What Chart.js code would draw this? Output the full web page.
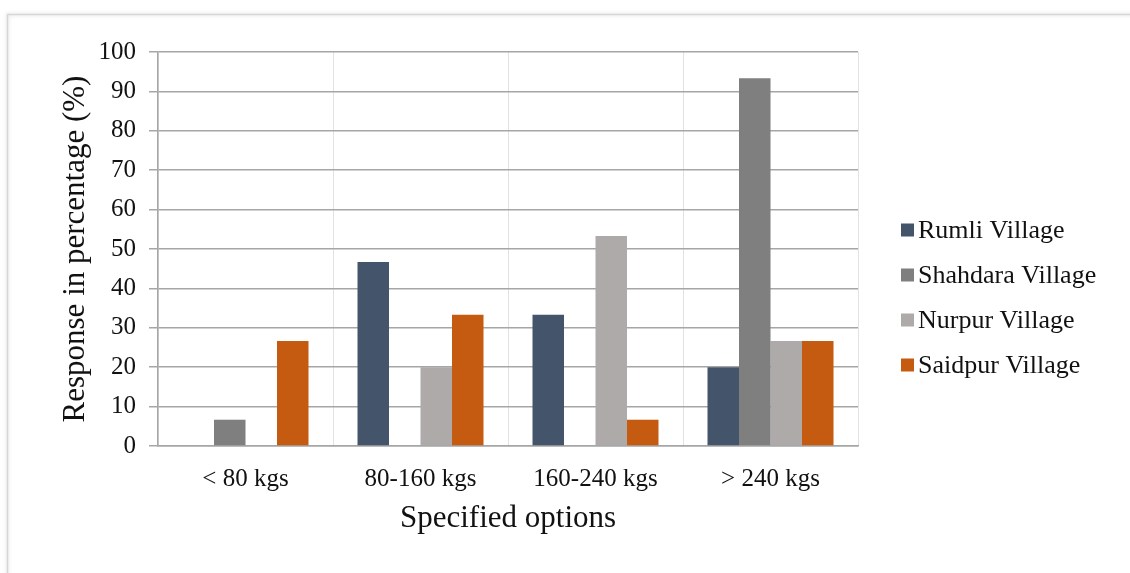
<!DOCTYPE html>
<html>
<head>
<meta charset="utf-8">
<script src="https://cdn.jsdelivr.net/npm/chart.js@4.4.1/dist/chart.umd.min.js"></script>
<style>
  html, body { margin: 0; padding: 0; background: #ffffff; }
  #wrap { position: relative; width: 1130px; height: 573px; }
</style>
</head>
<body>
<div id="wrap"><canvas id="chart" width="1130" height="573"></canvas></div>
<script>
// Weight classes asked about in the survey
const categories = ['< 80 kgs', '80-160 kgs', '160-240 kgs', '> 240 kgs'];

// Share of respondents per village (%)
const rumli    = [0, 46.67, 33.33, 20];
const shahdara = [6.67, 0, 0, 93.33];
const nurpur   = [0, 20, 53.33, 26.67];
const saidpur  = [26.67, 33.33, 6.67, 26.67];

const seriesNames  = ['Rumli Village', 'Shahdara Village', 'Nurpur Village', 'Saidpur Village'];
const seriesColors = ['#44546A', '#7F7F7F', '#AEAAAA', '#C55A11'];

const yTicks = { min: 0, max: 100, step: 10 };

const serif = "'Liberation Serif', 'DejaVu Serif', serif";
const ink = '#111111';

// Soft page frame along the top and left edges
const framePlugin = {
  id: 'frame',
  beforeDraw(chart) {
    const ctx = chart.ctx;
    ctx.save();
    ctx.strokeStyle = '#d6d6d6';
    ctx.lineWidth = 1.5;
    ctx.shadowColor = 'rgba(0,0,0,0.18)';
    ctx.shadowBlur = 4;
    ctx.beginPath();
    ctx.moveTo(7.5, chart.height + 5);
    ctx.lineTo(7.5, 14.5);
    ctx.lineTo(chart.width + 5, 14.5);
    ctx.stroke();
    ctx.restore();
  }
};

// Legend listed to the right of the plot
const sideLegend = {
  id: 'sideLegend',
  afterDraw(chart) {
    const ctx = chart.ctx;
    const x0 = 901, y0 = 230, rowGap = 45, box = 13;
    ctx.save();
    ctx.font = '26px ' + serif;
    ctx.textBaseline = 'middle';
    ctx.textAlign = 'left';
    chart.data.datasets.forEach((ds, i) => {
      const y = y0 + i * rowGap;
      ctx.fillStyle = ds.backgroundColor;
      ctx.fillRect(x0, y - box / 2, box, box);
      ctx.fillStyle = ink;
      ctx.fillText(ds.label, x0 + 17, y + 1);
    });
    ctx.restore();
  }
};

const datasets = [rumli, shahdara, nurpur, saidpur].map((vals, i) => ({
  label: seriesNames[i],
  data: vals,
  backgroundColor: seriesColors[i],
  borderWidth: 0,
  categoryPercentage: 0.72,
  barPercentage: 1.0
}));

new Chart(document.getElementById('chart'), {
  type: 'bar',
  data: { labels: categories, datasets },
  plugins: [framePlugin, sideLegend],
  options: {
    responsive: false,
    animation: false,
    layout: { padding: { left: 0, top: 52, right: 272, bottom: 0 } },
    plugins: {
      legend: { display: false },
      tooltip: { enabled: false }
    },
    scales: {
      x: {
        afterFit(scale) { scale.height = 127; },
        grid: { color: '#e2e2e2', lineWidth: 1, drawTicks: false, offset: true },
        border: { display: true, color: '#a6a6a6', width: 1.5 },
        ticks: { color: ink, font: { family: serif, size: 25 }, padding: 18, maxRotation: 0 },
        title: {
          display: true,
          text: 'Specified options',
          color: ink,
          font: { family: serif, size: 31 },
          padding: { top: 0, bottom: 36 }
        }
      },
      y: {
        min: yTicks.min,
        max: yTicks.max,
        afterFit(scale) { scale.width = 158; },
        grid: { color: '#a6a6a6', lineWidth: 1.5, tickLength: 9 },
        border: { display: true, color: '#a6a6a6', width: 1.5 },
        ticks: {
          stepSize: yTicks.step,
          color: ink,
          font: { family: serif, size: 25 },
          padding: 13
        },
        title: {
          display: true,
          text: 'Response in percentage (%)',
          color: ink,
          font: { family: serif, size: 31 },
          padding: { top: 57, bottom: 0 }
        }
      }
    }
  }
});
</script>
</body>
</html>
